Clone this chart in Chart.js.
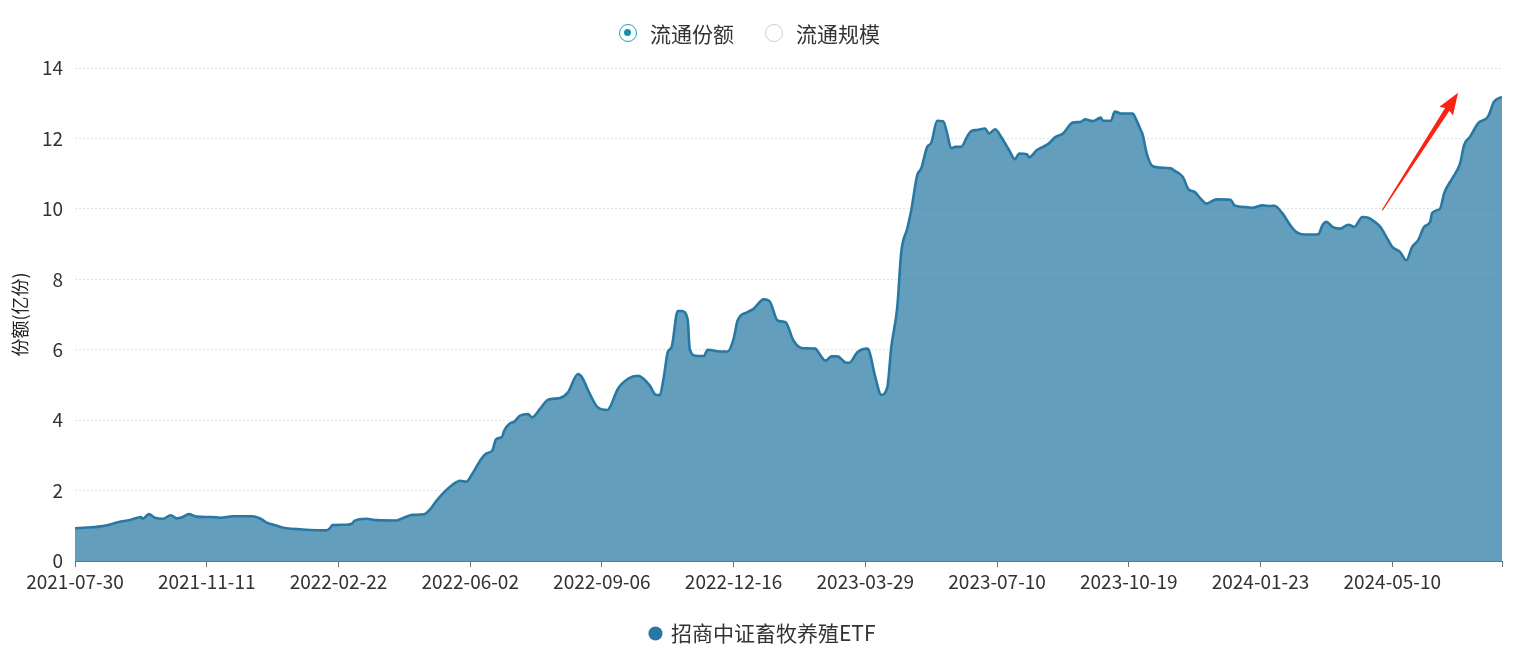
<!DOCTYPE html>
<html>
<head>
<meta charset="utf-8">
<script src="https://cdn.jsdelivr.net/npm/chart.js@4"></script>
<style>
  html, body { margin: 0; padding: 0; background: #fff; }
  #wrap { position: relative; width: 1526px; height: 661px; }
  #topLegend { position: absolute; top: 19px; left: 619px; height: 28px; white-space: nowrap;
    font-family: "Noto Sans CJK SC", "Noto Sans", sans-serif; font-size: 21px; color: #333; line-height: 28px; }
  .opt { display: inline-flex; align-items: center; vertical-align: top; height: 28px; }
  .opt + .opt { margin-left: 31px; }
  .radio { width: 18px; height: 18px; border-radius: 50%; border: 1.5px solid #cfcfcf; box-sizing: border-box;
    margin-right: 13px; position: relative; }
  .radio.on { border-color: #2a9cb8; }
  .radio.on::after { content: ""; position: absolute; left: 4px; top: 4px; width: 7px; height: 7px;
    border-radius: 50%; background: #1592b0; }
  canvas { position: absolute; left: 0; top: 0; }
</style>
</head>
<body>
<div id="wrap">
  <canvas id="c" width="1526" height="661"></canvas>
  <div id="topLegend"></div>
</div>
<script>
// ---- data ----
const seriesName = '招商中证畜牧养殖ETF';
const tickLabels = ['2021-07-30','2021-11-11','2022-02-22','2022-06-02','2022-09-06','2022-12-16',
  '2023-03-29','2023-07-10','2023-10-19','2024-01-23','2024-05-10'];
const tickStep = 66;      // trading days between labelled ticks
const lastDay = 715;      // index of last trading day shown
const switchOptions = ['流通份额', '流通规模'];
const days = [0,6,14,19,23,28,33,34,37,40,44,48,51,54,57,61,68,73,79,89,93,96,99,106,113,126,128,129,136,139,140,146,151,161,164,169,175,178,181,184,189,193,196,199,203,206,209,211,214,215,218,220,223,227,229,233,237,243,247,252,254,258,262,267,268,272,277,282,285,288,291,293,295,297,299,302,304,307,308,311,315,317,323,327,330,332,337,340,345,348,352,356,360,364,371,373,376,379,382,386,388,392,397,398,401,404,407,409,412,414,417,419,422,424,427,429,432,435,437,439,441,444,447,449,452,456,458,461,464,468,471,473,477,478,482,485,488,491,495,500,504,506,510,514,515,519,521,524,530,531,534,535,537,540,544,549,551,555,558,561,564,567,572,579,581,587,590,595,599,601,605,609,612,616,623,625,627,630,634,638,641,645,648,652,654,658,660,664,667,670,673,676,679,680,684,686,690,694,696,699,703,708,711,715];
const shares = [0.93,0.95,0.99,1.06,1.12,1.17,1.25,1.20,1.33,1.23,1.20,1.30,1.21,1.25,1.33,1.26,1.25,1.23,1.27,1.27,1.20,1.09,1.04,0.93,0.90,0.87,0.95,1.02,1.03,1.07,1.14,1.20,1.16,1.15,1.21,1.31,1.33,1.47,1.70,1.90,2.16,2.28,2.25,2.47,2.85,3.05,3.13,3.46,3.53,3.70,3.91,3.95,4.13,4.17,4.08,4.32,4.58,4.63,4.79,5.31,5.22,4.74,4.36,4.29,4.36,4.89,5.17,5.26,5.17,4.98,4.72,4.71,5.22,5.93,6.09,7.10,7.10,6.85,6.02,5.83,5.82,6.00,5.95,5.95,6.31,6.83,7.07,7.16,7.43,7.38,6.83,6.78,6.26,6.05,6.03,5.88,5.69,5.81,5.81,5.64,5.63,5.93,6.03,5.95,5.22,4.72,4.93,6.07,7.21,8.77,9.44,9.96,10.96,11.15,11.76,11.87,12.50,12.49,12.14,11.72,11.76,11.76,12.05,12.21,12.24,12.28,12.14,12.26,12.05,11.67,11.41,11.57,11.55,11.46,11.67,11.76,11.86,12.03,12.14,12.45,12.47,12.54,12.49,12.59,12.50,12.50,12.76,12.71,12.71,12.62,12.24,12.10,11.57,11.21,11.17,11.15,11.08,10.91,10.55,10.48,10.29,10.15,10.27,10.26,10.10,10.05,10.03,10.10,10.08,10.09,9.87,9.53,9.34,9.27,9.28,9.53,9.63,9.49,9.44,9.55,9.49,9.77,9.75,9.60,9.49,9.11,8.92,8.77,8.54,8.92,9.11,9.49,9.63,9.88,10.01,10.44,10.86,11.29,11.81,12.05,12.43,12.62,13.04,13.18];
const yTicks = { min: 0, max: 14, step: 2 };
const yTitle = '份额(亿份)';
// annotation arrow (data units: trading-day index, share value)
const arrowFrom = { x: 655, y: 9.96 };
const arrowTo = { x: 693, y: 13.30 };

// ---- top switch legend (HTML) ----
const tl = document.getElementById('topLegend');
switchOptions.forEach((t, i) => {
  const s = document.createElement('span'); s.className = 'opt';
  const r = document.createElement('span'); r.className = 'radio' + (i === 0 ? ' on' : '');
  const l = document.createElement('span'); l.textContent = t;
  s.appendChild(r); s.appendChild(l); tl.appendChild(s);
});

const lineColor = '#2878a4';
const fillColor = 'rgba(40,120,164,0.72)';
const FONT = '"Noto Sans CJK SC", "Noto Sans", sans-serif';

const arrowPlugin = {
  id: 'arrow',
  afterDatasetsDraw(chart) {
    const xs = chart.scales.x, ys = chart.scales.y, ctx = chart.ctx;
    const x1 = xs.getPixelForValue(arrowFrom.x), y1 = ys.getPixelForValue(arrowFrom.y);
    const x2 = xs.getPixelForValue(arrowTo.x), y2 = ys.getPixelForValue(arrowTo.y);
    const ang = Math.atan2(y2 - y1, x2 - x1);
    const len = Math.hypot(x2 - x1, y2 - y1);
    const headLen = 20, headW = 8, shaftW = 2.6;
    ctx.save();
    ctx.translate(x1, y1); ctx.rotate(ang);
    ctx.fillStyle = '#fb2314';
    ctx.beginPath();
    ctx.moveTo(0, -0.6);
    ctx.lineTo(len - headLen, -shaftW);
    ctx.lineTo(len - headLen - 2, -headW);
    ctx.lineTo(len, 0);
    ctx.lineTo(len - headLen - 2, headW);
    ctx.lineTo(len - headLen, shaftW);
    ctx.lineTo(0, 0.6);
    ctx.closePath();
    ctx.fill();
    ctx.restore();
  }
};

new Chart(document.getElementById('c'), {
  type: 'line',
  data: {
    datasets: [{
      label: seriesName,
      data: days.map((d, i) => ({ x: d, y: shares[i] })),
      borderColor: lineColor,
      backgroundColor: fillColor,
      borderWidth: 2.6,
      fill: 'origin',
      pointRadius: 0,
      tension: 0.35,
      cubicInterpolationMode: 'monotone'
    }]
  },
  options: {
    responsive: false,
    animation: false,
    events: [],
    layout: { padding: { left: 24, right: 24, top: 68, bottom: 7 } },
    plugins: {
      tooltip: { enabled: false },
      legend: {
        position: 'bottom',
        labels: {
          usePointStyle: true,
          boxWidth: 10, boxHeight: 10,
          padding: 10,
          color: '#333',
          font: { family: FONT, size: 21 },
          generateLabels: () => [{ text: seriesName, fillStyle: lineColor, strokeStyle: lineColor,
            lineWidth: 0, pointStyle: 'circle', datasetIndex: 0, fontColor: '#333' }]
        }
      }
    },
    scales: {
      x: {
        type: 'linear',
        min: 0, max: lastDay,
        afterBuildTicks: s => {
          const t = tickLabels.map((_, i) => ({ value: i * tickStep }));
          t.push({ value: lastDay });
          s.ticks = t;
        },
        afterFit: s => { s.height = 52; },
        ticks: {
          autoSkip: false, maxRotation: 0, padding: 3,
          color: '#333', font: { family: FONT, size: 19 },
          callback: v => (v % tickStep === 0 && v / tickStep < tickLabels.length) ? tickLabels[v / tickStep] : ''
        },
        grid: { display: true, drawOnChartArea: false, drawTicks: true, tickLength: 6, color: '#6e7079', lineWidth: 1 },
        border: { display: true, color: '#6e7079', width: 1 }
      },
      y: {
        min: yTicks.min, max: yTicks.max,
        afterFit: s => { s.width = 51; },
        ticks: { stepSize: yTicks.step, padding: 12, color: '#333', font: { family: FONT, size: 19 } },
        grid: { color: '#dfe3ec', lineWidth: 1, drawTicks: false },
        border: { display: false, dash: [2, 2] },
        title: { display: true, text: yTitle, color: '#222', font: { family: FONT, size: 18 }, padding: { top: -15, bottom: 0 } }
      }
    }
  },
  plugins: [arrowPlugin]
});
</script>
</body>
</html>
